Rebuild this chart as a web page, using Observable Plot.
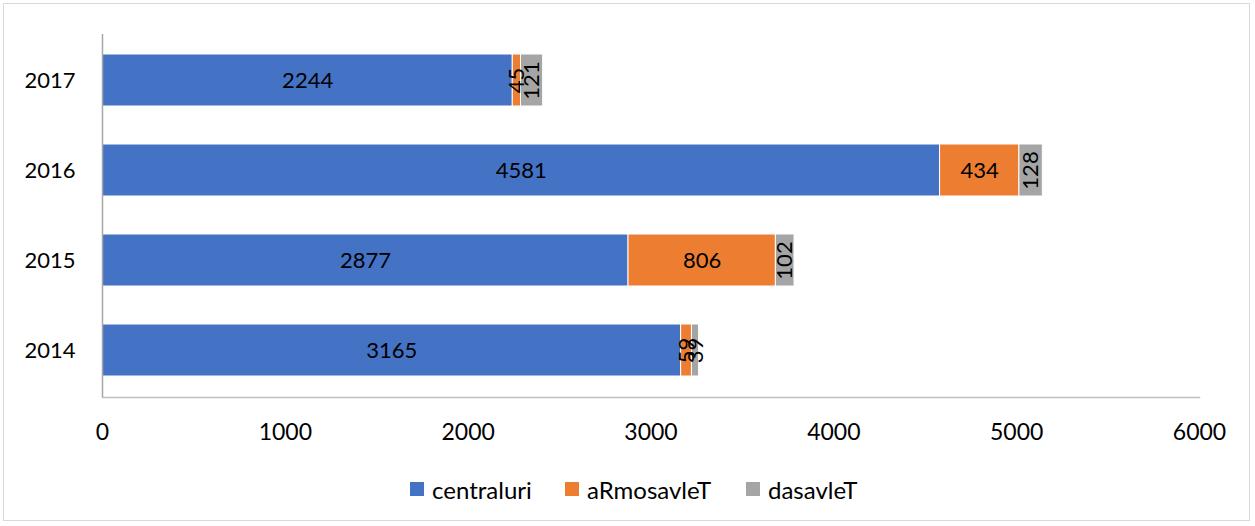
<!DOCTYPE html>
<html>
<head>
<meta charset="utf-8">
<script src="https://cdn.jsdelivr.net/npm/d3@7"></script>
<script src="https://cdn.jsdelivr.net/npm/@observablehq/plot@0.6"></script>
<style>
  html, body { margin: 0; padding: 0; background: #fff; }
  #wrap { position: relative; width: 1255px; height: 526px; font-family: Lato, "Open Sans", sans-serif; }
  #frame { position: absolute; left: 3px; top: 3px; width: 1247px; height: 518px; border: 1px solid #d9d9d9; box-sizing: border-box; }
  #chart { position: absolute; left: 0; top: 0; }
  #legend { position: absolute; top: 475px; left: 0; width: 1255px; height: 28px; font-size: 24px; color: #000; }
  .item { position: absolute; top: 0; display: flex; align-items: center; height: 28px; }
  .sw { width: 14px; height: 14px; margin-right: 8px; }
</style>
</head>
<body>
<div id="wrap">
  <div id="frame"></div>
  <div id="chart"></div>
  <div id="legend"></div>
</div>
<script>
const years = ["2014", "2015", "2016", "2017"];
const seriesNames = ["centraluri", "aRmosavleT", "dasavleT"];
const centraluri = [3165, 2877, 4581, 2244];
const aRmosavleT = [59, 806, 434, 45];
const dasavleT = [39, 102, 128, 121];
const colors = ["#4472C4", "#ED7D31", "#A5A5A5"];
const xTicks = [0, 1000, 2000, 3000, 4000, 5000, 6000];

const seriesValues = [centraluri, aRmosavleT, dasavleT];
const rows = [];
years.forEach((yr, i) => {
  let acc = 0;
  seriesNames.forEach((s, j) => {
    const v = seriesValues[j][i];
    rows.push({year: yr, series: s, value: v, x1: acc, x2: acc + v, mid: acc + v / 2});
    acc += v;
  });
});

const wide = rows.filter(d => d.value >= 300);
const narrow = rows.filter(d => d.value < 300);

const chart = Plot.plot({
  width: 1255,
  height: 460,
  marginLeft: 102,
  marginRight: 56,
  marginTop: 34,
  marginBottom: 63,
  style: {fontFamily: "Lato, 'Open Sans', sans-serif", background: "transparent", color: "#000"},
  x: {domain: [0, 6000], ticks: xTicks},
  y: {domain: years.slice().reverse(), paddingInner: 0.42, paddingOuter: 0.21},
  color: {domain: seriesNames, range: colors},
  marks: [
    Plot.barX(rows, {x1: "x1", x2: "x2", y: "year", fill: "series", stroke: "#fff", strokeWidth: 1}),
    Plot.frame({anchor: "bottom", stroke: "#bfbfbf", strokeWidth: 1.5}),
    Plot.ruleX([0], {stroke: "#a6a6a6", strokeWidth: 1.5}),
    Plot.text(wide, {x: "mid", y: "year", text: d => String(d.value), fontSize: 22, fill: "#000"}),
    Plot.text(narrow, {x: "mid", y: "year", text: d => String(d.value), rotate: -90, fontSize: 22, fill: "#000"}),
    Plot.axisX({ticks: xTicks, tickSize: 0, tickPadding: 26, fontSize: 23, tickFormat: d => String(d), label: null}),
    Plot.axisY({tickSize: 0, tickPadding: 27, fontSize: 22, label: null})
  ]
});
document.getElementById("chart").appendChild(chart);

const legendPos = [410, 565, 746];
const legend = document.getElementById("legend");
seriesNames.forEach((s, j) => {
  const it = document.createElement("div");
  it.className = "item";
  it.style.left = legendPos[j] + "px";
  const sw = document.createElement("div");
  sw.className = "sw";
  sw.style.background = colors[j];
  const t = document.createElement("span");
  t.textContent = s;
  it.appendChild(sw);
  it.appendChild(t);
  legend.appendChild(it);
});
</script>
</body>
</html>
